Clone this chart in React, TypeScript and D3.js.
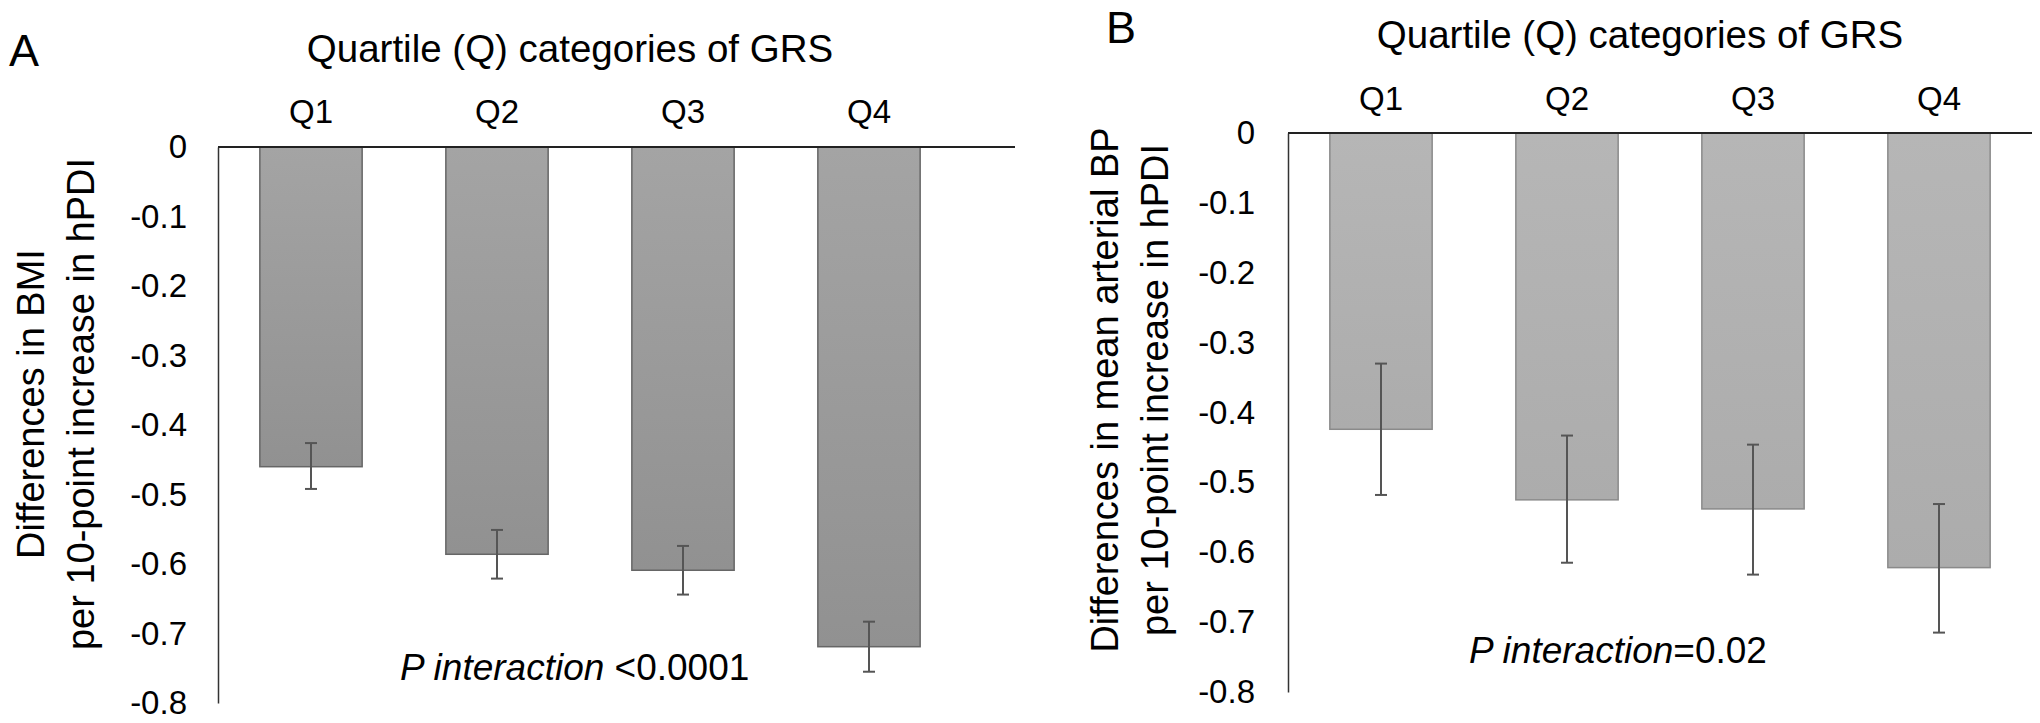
import React, { useEffect, useRef } from "react";
import * as d3 from "d3";

// quartile categories of the genetic risk score
const quartiles = ["Q1", "Q2", "Q3", "Q4"];
const yTicks = [0, -0.1, -0.2, -0.3, -0.4, -0.5, -0.6, -0.7, -0.8];

// panel A: differences in BMI
const bmiMean = [-0.46, -0.586, -0.609, -0.719];
const bmiLow = [-0.492, -0.621, -0.644, -0.755];
const bmiHigh = [-0.426, -0.551, -0.574, -0.683];

// panel B: differences in mean arterial BP
const mapMean = [-0.424, -0.525, -0.538, -0.622];
const mapLow = [-0.518, -0.615, -0.632, -0.715];
const mapHigh = [-0.33, -0.433, -0.446, -0.531];

const FONT = "'Liberation Sans', Arial, sans-serif";

const drawPanel = (svg, p) => {
  var x = d3.scaleBand()
    .domain(quartiles)
    .range([p.left, p.right])
    .paddingInner(0.45)
    .paddingOuter(0.225);

  var y = d3.scaleLinear()
    .domain([0, -0.8])
    .range([p.top, p.bottom]);

  var g = svg.append("g");

  var grad = svg.append("defs").append("linearGradient")
    .attr("id", "grad" + p.letter)
    .attr("x1", 0).attr("y1", 0).attr("x2", 0).attr("y2", 1);
  grad.append("stop").attr("offset", "0%").attr("stop-color", p.fillTop);
  grad.append("stop").attr("offset", "100%").attr("stop-color", p.fillBottom);

  // bars
  g.append("g")
    .selectAll("rect")
    .data(p.mean)
    .enter()
    .append("rect")
    .attr("x", (d, i) => x(quartiles[i]))
    .attr("y", y(0))
    .attr("width", x.bandwidth())
    .attr("height", d => y(d) - y(0))
    .attr("fill", "url(#grad" + p.letter + ")")
    .attr("stroke", p.stroke)
    .attr("stroke-width", 1.5);

  // error bars
  var eb = g.append("g")
    .selectAll("g")
    .data(p.mean)
    .enter()
    .append("g")
    .attr("stroke", "#555")
    .attr("stroke-width", 2);
  eb.append("line")
    .attr("x1", (d, i) => x(quartiles[i]) + x.bandwidth() / 2)
    .attr("x2", (d, i) => x(quartiles[i]) + x.bandwidth() / 2)
    .attr("y1", (d, i) => y(p.high[i]))
    .attr("y2", (d, i) => y(p.low[i]));
  [p.high, p.low].forEach(arr => {
    eb.append("line")
      .attr("x1", (d, i) => x(quartiles[i]) + x.bandwidth() / 2 - 6)
      .attr("x2", (d, i) => x(quartiles[i]) + x.bandwidth() / 2 + 6)
      .attr("y1", (d, i) => y(arr[i]))
      .attr("y2", (d, i) => y(arr[i]));
  });

  // y axis
  var yAxis = g.append("g")
    .attr("transform", "translate(" + p.left + ",0)")
    .call(d3.axisLeft(y)
      .tickValues(yTicks)
      .tickSize(0)
      .tickPadding(p.tickGap)
      .tickFormat(d => (d === 0 ? "0" : d.toFixed(1))));
  yAxis.select(".domain").attr("stroke", "#333").attr("stroke-width", 1.5);
  yAxis.selectAll("text")
    .attr("font-family", FONT)
    .attr("font-size", 33)
    .attr("fill", "#000");

  // zero line on top
  g.append("line")
    .attr("x1", p.left)
    .attr("x2", p.lineEnd)
    .attr("y1", y(0))
    .attr("y2", y(0))
    .attr("stroke", "#222")
    .attr("stroke-width", 2);

  // category labels
  g.append("g")
    .selectAll("text")
    .data(quartiles)
    .enter()
    .append("text")
    .attr("x", d => x(d) + x.bandwidth() / 2)
    .attr("y", p.qY)
    .attr("text-anchor", "middle")
    .attr("font-family", FONT)
    .attr("font-size", 33)
    .text(d => d);

  g.append("text")
    .attr("x", p.titleX)
    .attr("y", p.titleY)
    .attr("text-anchor", "middle")
    .attr("font-family", FONT)
    .attr("font-size", 38.5)
    .text("Quartile (Q) categories of GRS");

  g.append("text")
    .attr("x", p.letterX)
    .attr("y", p.letterY)
    .attr("font-family", FONT)
    .attr("font-size", 45)
    .text(p.letter);

  // y title, two lines
  p.yTitle.forEach((t, i) => {
    g.append("text")
      .attr("transform", "translate(" + p.yTitleX[i] + "," + p.yTitleCy + ") rotate(-90)")
      .attr("text-anchor", "middle")
      .attr("font-family", FONT)
      .attr("font-size", 38)
      .text(t);
  });

  var pt = g.append("text")
    .attr("x", p.pX)
    .attr("y", p.pY)
    .attr("font-family", FONT)
    .attr("font-size", 37);
  pt.append("tspan").attr("font-style", "italic").text("P interaction");
  pt.append("tspan").text(p.pRest);
};

export default function App() {
  const ref = useRef(null);

  useEffect(() => {
    var svg = d3.select(ref.current);
    svg.selectAll("*").remove();

    drawPanel(svg, {
      letter: "A", letterX: 9, letterY: 66,
      left: 218, right: 962, lineEnd: 1015,
      top: 147, bottom: 703,
      mean: bmiMean, low: bmiLow, high: bmiHigh,
      fillTop: "#a4a4a4", fillBottom: "#919191", stroke: "#666",
      titleX: 570, titleY: 62, qY: 123, tickGap: 31,
      yTitle: ["Differences in BMI", "per 10-point increase in hPDI"],
      yTitleX: [44, 94], yTitleCy: 404,
      pX: 400, pY: 680, pRest: " <0.0001",
    });

    drawPanel(svg, {
      letter: "B", letterX: 1106, letterY: 43,
      left: 1288, right: 2032, lineEnd: 2032,
      top: 133, bottom: 692,
      mean: mapMean, low: mapLow, high: mapHigh,
      fillTop: "#b6b6b6", fillBottom: "#acacac", stroke: "#8a8a8a",
      titleX: 1640, titleY: 48, qY: 110, tickGap: 33,
      yTitle: ["Differences in mean arterial BP", "per 10-point increase in hPDI"],
      yTitleX: [1118, 1168], yTitleCy: 390,
      pX: 1469, pY: 663, pRest: "=0.02",
    });
  }, []);

  return (
    <svg
      ref={ref}
      width={2040}
      height={723}
      style={{ position: "absolute", left: 0, top: 0, background: "#fff" }}
    />
  );
}
